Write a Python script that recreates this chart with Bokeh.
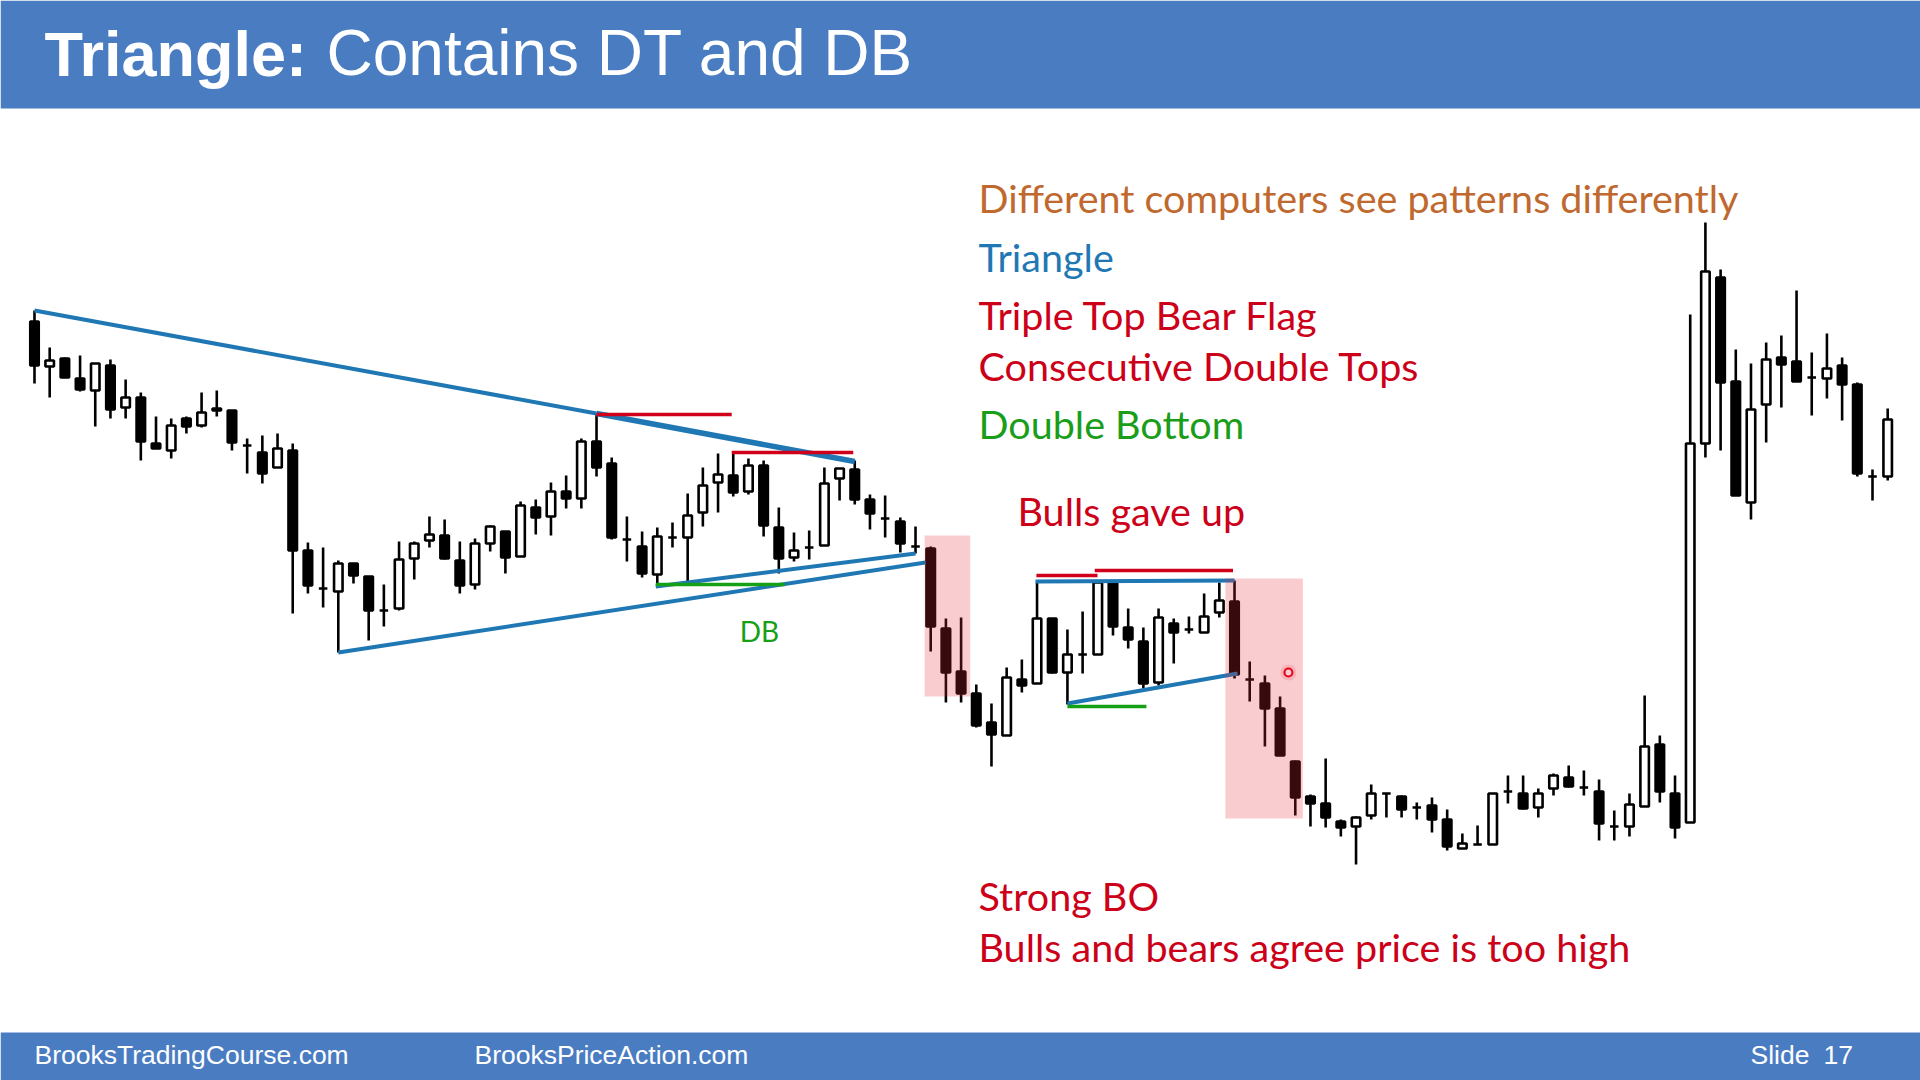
from bokeh.plotting import figure
from bokeh.models import Range1d, ColumnDataSource, Label, BoxAnnotation
from bokeh.embed import file_html
from bokeh.resources import INLINE

# ---------------- data (bar number, OHLC in price units) ----------------
bars = list(range(1, 124))
opens = [759, 714, 722, 702, 690, 715, 673, 683, 637, 630,
         662, 655, 672, 670, 635, 628, 613, 630, 530, 492,
         489, 517, 504, 470, 472, 522, 540, 545, 520, 496,
         537, 549, 524, 573, 564, 589, 582, 639, 617, 541,
         534, 506, 543, 543, 568, 598, 605, 589, 615, 553,
         523, 533, 535, 602, 611, 581, 562, 559, 534, 532,
         452, 409, 387, 358, 345, 401, 397, 462, 408, 426,
         426, 498, 453, 439, 398, 457, 451, 448, 468, 479,
         401, 397, 372, 319, 284, 277, 259, 254, 265, 287,
         284, 273, 275, 261, 232, 236, 236, 289, 287, 273,
         292, 303, 293, 289, 254, 254, 274, 336, 287, 258,
         637, 803, 699, 578, 676, 723, 719, 703, 702, 715,
         696, 604, 604]
highs = [770, 733, 723, 725, 717, 721, 701, 688, 664, 662,
         664, 688, 690, 670, 642, 645, 647, 637, 538, 533,
         520, 517, 504, 496, 539, 539, 564, 561, 539, 542,
         555, 549, 579, 581, 598, 605, 642, 667, 623, 564,
         549, 553, 558, 587, 613, 627, 627, 622, 620, 573,
         548, 550, 613, 612, 620, 586, 585, 563, 554, 534,
         462, 463, 396, 377, 413, 421, 499, 462, 451, 469,
         498, 498, 472, 453, 472, 462, 464, 487, 498, 500,
         419, 405, 384, 320, 286, 322, 261, 264, 296, 287,
         285, 278, 283, 271, 247, 255, 287, 305, 305, 292,
         307, 315, 310, 301, 270, 287, 385, 345, 305, 766,
         858, 811, 731, 717, 738, 745, 790, 728, 747, 723,
         698, 611, 672]
lows = [697, 683, 703, 689, 654, 662, 662, 620, 632, 622,
        647, 653, 664, 630, 607, 597, 613, 467, 487, 473,
        428, 497, 440, 454, 470, 501, 533, 521, 487, 491,
        529, 507, 524, 546, 545, 572, 572, 604, 541, 519,
        503, 497, 533, 497, 554, 568, 584, 586, 544, 507,
        519, 521, 535, 580, 576, 551, 543, 528, 527, 429,
        378, 378, 353, 314, 345, 388, 397, 407, 376, 407,
        426, 445, 432, 392, 395, 417, 447, 448, 463, 402,
        379, 334, 325, 265, 254, 253, 244, 216, 261, 263,
        263, 261, 248, 230, 232, 236, 236, 277, 271, 263,
        285, 293, 285, 240, 240, 244, 274, 278, 242, 258,
        623, 630, 585, 561, 638, 673, 699, 665, 682, 660,
        604, 580, 600]
closes = [715, 720, 703, 691, 717, 671, 683, 639, 632, 655,
          654, 668, 670, 638, 635, 607, 632, 530, 495, 492,
          517, 505, 470, 470, 521, 537, 546, 522, 495, 537,
          554, 523, 575, 563, 589, 582, 639, 613, 543, 541,
          507, 544, 543, 565, 595, 606, 588, 615, 555, 522,
          530, 533, 597, 612, 581, 567, 562, 537, 534, 454,
          408, 387, 355, 346, 403, 395, 462, 408, 426, 426,
          498, 454, 441, 397, 463, 448, 451, 464, 480, 406,
          401, 372, 325, 283, 277, 263, 253, 263, 287, 287,
          271, 273, 261, 234, 237, 236, 287, 289, 272, 287,
          305, 294, 293, 257, 254, 276, 334, 289, 253, 637,
          809, 698, 585, 671, 721, 716, 699, 703, 712, 696,
          607, 604, 661]

# annotation lines: (colour, bar0, price0, bar1, price1, width)
trend_lines = [
    ("blue", 1, 770, 38, 667, 4),
    ("blue", 38, 667, 55, 619, 5.5),
    ("blue", 21, 428, 59.66, 518, 4),
    ("blue", 41.9, 494, 59.0, 527, 4),
    ("red", 38.0, 666, 46.9, 666, 3.5),
    ("red", 46.9, 628, 54.9, 628, 3.5),
    ("green", 41.9, 496, 50.4, 496, 3.5),
    ("red", 66.96, 505, 70.98, 505, 3.5),
    ("red", 70.8, 510, 79.9, 510, 3.5),
    ("blue", 66.9, 499, 80.0, 500, 4),
    ("blue", 69.0, 377, 80.2, 407, 4),
    ("green", 69.0, 374, 74.2, 374, 3.5),
]
# shaded breakout zones: (bar_left, bar_right, price_top, price_bottom)
zones = [(59.6, 62.6, 545, 384), (79.4, 84.5, 502, 262)]

BLUE = "#1F78B4"
RED = "#D0001A"
TXTRED = "#CC0018"
GREEN = "#16A016"
BAR = "#4A7CC2"

# ---------------- figure ----------------
p = figure(width=1920, height=1080, x_range=Range1d(-1.238, 125.16), y_range=Range1d(0, 1080),
           output_backend="svg", toolbar_location=None, min_border=0,
           x_axis_location=None, y_axis_location=None, outline_line_color=None,
           background_fill_color="white", border_fill_color="white")
p.grid.visible = False


def dx(px):
    return 1 + (px - 34) / 15.19


def dy(py):
    return 1080 - py


inc = [c >= o for o, c in zip(opens, closes)]
src = ColumnDataSource(dict(
    x=bars, o=opens, h=highs, l=lows, c=closes,
    top=[max(o, c) for o, c in zip(opens, closes)],
    bot=[min(o, c) for o, c in zip(opens, closes)],
    fill=["white" if u else "black" for u in inc],
))
p.segment(x0="x", y0="l", x1="x", y1="h", source=src, line_color="black", line_width=2.6)
p.vbar(x="x", width=0.56, top="top", bottom="bot", source=src,
       fill_color="fill", line_color="black", line_width=2.6)

cmap = {"blue": BLUE, "red": RED, "green": GREEN}
for col, b0, p0, b1, p1, w in trend_lines:
    p.line([b0, b1], [p0, p1], line_color=cmap[col], line_width=w)

for l, r, t, b in zones:
    p.add_layout(BoxAnnotation(left=l, right=r, top=t, bottom=b, fill_color="#E8283A",
                               fill_alpha=0.24, line_alpha=0))

# red cursor mark
p.scatter([83.55], [408], size=16, marker="circle", fill_color="#FF4050", fill_alpha=0.18, line_alpha=0)
p.scatter([83.55], [408], size=8, marker="circle", fill_color="white", line_color="#E0001A", line_width=2.2)

# header / footer bands
p.add_layout(BoxAnnotation(bottom=dy(108), fill_color=BAR, fill_alpha=1, line_alpha=0))
p.add_layout(BoxAnnotation(top=dy(1032), fill_color=BAR, fill_alpha=1, line_alpha=0))


def lab(text, px, baseline, color, size, font="Lato", style="normal", align="left", adj=0.0):
    # label anchor is raised so the rendered alphabetic baseline lands on `baseline`
    p.add_layout(Label(x=dx(px), y=dy(baseline) + 0.42 * size - adj, text=text, text_color=color,
                       text_font=font, text_font_size=f"{size}px",
                       text_font_style=style, text_align=align, text_baseline="alphabetic"))


lab("Triangle:", 44, 77, "white", 63, font="Liberation Sans", style="bold", adj=2.5)
lab("Contains DT and DB", 326, 77, "white", 64, font="Liberation Sans", adj=2.5)

lab("Different computers see patterns differently", 978, 210, "#C0692F", 39.5, adj=3.5)
lab("Triangle", 978, 269, BLUE, 39.5, adj=3.5)
lab("Triple Top Bear Flag", 978, 327, TXTRED, 39.5, adj=3.5)
lab("Consecutive Double Tops", 978, 378, TXTRED, 39.5, adj=3.5)
lab("Double Bottom", 978, 436, "#1A9E1A", 39.5, adj=3.5)
lab("Bulls gave up", 1017, 523, TXTRED, 39.5, adj=3.5)
lab("Strong BO", 978, 908, TXTRED, 39.5, adj=3.5)
lab("Bulls and bears agree price is too high", 978, 959, TXTRED, 39.5, adj=3.5)
lab("DB", 759, 642, GREEN, 28, align="center")

lab("BrooksTradingCourse.com", 34, 1063, "white", 26.5, font="Liberation Sans", adj=2.5)
lab("BrooksPriceAction.com", 474, 1063, "white", 26.5, font="Liberation Sans", adj=2.5)
lab("Slide", 1750, 1063, "white", 26.5, font="Liberation Sans", adj=2.5)
lab("17", 1823, 1063, "white", 26.5, font="Liberation Sans", adj=2.5)

open("out.html", "w").write(file_html(p, INLINE))
